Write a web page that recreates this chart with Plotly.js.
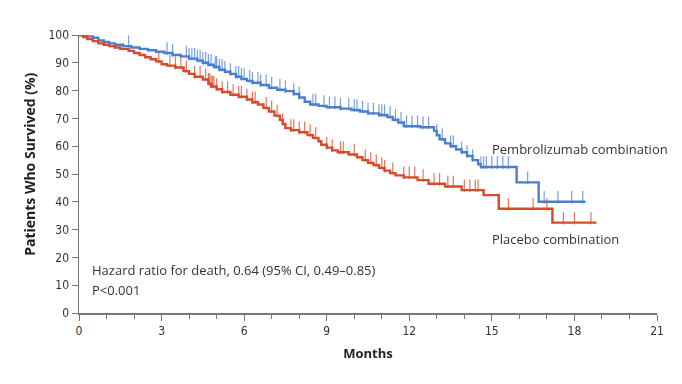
<!DOCTYPE html>
<html><head><meta charset="utf-8">
<script src="https://cdn.plot.ly/plotly-3.0.1.min.js"></script>
<style>html,body{margin:0;padding:0;background:#fff} #chart .xtick text{fill:#333 !important}</style>
</head><body><div id="chart" style="width:682px;height:384px"></div>
<script>
// Kaplan-Meier step data (months, % surviving after step)
const pembroTimes = [0,0.3,0.5,0.7,0.9,1.1,1.3,1.6,1.9,2.2,2.5,2.8,3.1,3.4,3.7,4.0,4.3,4.5,4.7,4.9,5.1,5.3,5.5,5.7,5.9,6.1,6.3,6.6,6.9,7.2,7.5,7.8,8.0,8.2,8.4,8.7,9.0,9.5,9.9,10.2,10.5,10.9,11.2,11.4,11.6,11.8,12.4,12.9,13.0,13.1,13.3,13.5,13.7,13.9,14.1,14.3,14.5,14.6,15.9,16.7,18.4];
const pembroSurv  = [100,99.5,99,98,97.5,97,96.5,96,95.5,95,94.5,94,93.5,92.8,92.3,91.5,90.8,90,89.3,88.5,87.5,86.8,86,85,84.2,83.5,82.8,82,81,80.3,79.8,78.8,77.5,76,75,74.5,74,73.5,73,72.5,71.8,71.2,70.5,69.5,68.5,67.2,66.8,65.5,64,62.5,61,60,58.8,57.8,56.5,55,53.5,52.5,47,40,40];
const placeboTimes = [0,0.15,0.3,0.5,0.7,0.9,1.1,1.3,1.5,1.8,2.0,2.2,2.4,2.6,2.8,3.0,3.2,3.5,3.8,4.0,4.2,4.5,4.7,4.8,5.0,5.2,5.5,5.8,6.1,6.3,6.5,6.7,6.9,7.1,7.3,7.4,7.5,7.7,8.0,8.3,8.5,8.7,8.8,9.0,9.2,9.4,9.8,10.1,10.3,10.5,10.7,10.9,11.1,11.3,11.5,11.8,12.3,12.7,13.3,13.9,14.7,15.25,17.2,18.8];
const placeboSurv  = [100,99.3,98.5,97.8,97,96.5,96,95.5,95,94.3,93.5,92.8,92,91.3,90.5,89.5,89,88.3,87,86,85,84,82.5,81.5,80.5,79.5,78.5,77.8,76.8,75.8,75,73.8,72.5,71,69.5,68,66.5,65.8,65,64,63,61.8,60.5,59.5,58.5,57.8,57,56,55,54,53.2,52.2,51.2,50.3,49.5,48.8,47.8,46.5,45.5,44.2,42.4,37.5,32.5,32.5];
// censoring times (months)
const pembroCensor = [1.8,3.2,3.4,3.9,4.0,4.1,4.2,4.3,4.4,4.5,4.6,4.7,4.8,4.95,5.0,5.1,5.2,5.3,5.5,5.7,5.8,5.9,6.0,6.2,6.3,6.5,6.6,6.8,7.0,7.3,7.5,7.8,8.0,8.5,8.6,8.9,9.1,9.3,9.5,9.8,10.0,10.1,10.3,10.5,10.7,10.9,11.0,11.1,11.3,11.5,11.7,11.9,12.1,12.3,12.5,12.7,13.0,13.2,13.5,13.6,13.9,14.1,14.3,14.6,14.7,14.8,15.0,15.2,15.4,15.6,16.3,16.9,17.4,17.9,18.3];
const placeboCensor = [2.9,3.3,3.5,3.7,3.9,4.2,4.4,4.6,4.7,4.75,4.8,4.85,4.9,5.0,5.2,5.4,5.6,5.8,5.9,6.1,6.3,6.4,6.8,7.0,7.2,7.4,7.7,7.8,8.0,8.2,8.4,8.6,9.0,9.2,9.5,9.6,10.0,10.4,10.6,10.8,11.0,11.1,11.4,11.8,12.0,12.2,12.5,12.9,13.1,13.4,13.6,14.0,14.2,14.4,14.5,15.6,16.5,17.0,17.6,18.0,18.6];
const xTickVals = [0,3,6,9,12,15,18,21];
const xTickText = ['0','3','6','9','12','15','18','21'];
const yTickVals = [0,10,20,30,40,50,60,70,80,90,100];
const seriesNames = ['Pembrolizumab combination','Placebo combination'];

const BLUE = '#4a7fd0', RED = '#d84a2c';
function survAt(times, surv, t){ let v = surv[0]; for(let i=0;i<times.length;i++){ if(times[i]<=t) v=surv[i]; } return v; }
const TICK_RAISE = 1.6; // raise so ticks sit above the curve
function censorTrace(times, surv, ct, color){
  return {x: ct, y: ct.map(t=>survAt(times,surv,t)+TICK_RAISE), mode:'markers', type:'scatter',
    marker:{symbol:'line-ns-open', size:9, color:color, line:{width:1.2, color:color}},
    hoverinfo:'skip', showlegend:false, opacity:0.75};
}
const data = [
  {x:pembroTimes, y:pembroSurv, type:'scatter', mode:'lines', line:{shape:'hv', color:BLUE, width:2.4}, name:seriesNames[0]},
  {x:placeboTimes, y:placeboSurv, type:'scatter', mode:'lines', line:{shape:'hv', color:RED, width:2.4}, name:seriesNames[1]},
  censorTrace(pembroTimes, pembroSurv, pembroCensor, BLUE),
  censorTrace(placeboTimes, placeboSurv, placeboCensor, RED)
];
const tickFont = {family:'"DejaVu Sans Condensed", "Liberation Sans Narrow", Arial, sans-serif', size:12, color:'#333'};
const txtFont = {family:'"Open Sans", sans-serif', size:13, color:'#333'};
const layout = {
  width:682, height:384, paper_bgcolor:'#fff', plot_bgcolor:'#fff', showlegend:false,
  margin:{l:79, r:25, t:35, b:71},
  xaxis:{range:[0,21], tickvals:xTickVals, ticktext:xTickText, ticks:'outside', ticklen:6, tickcolor:'#777', tickwidth:1,
    showline:true, linecolor:'#777', linewidth:1.5, showgrid:false, zeroline:false, tickfont:tickFont,
    minor:{dtick:1, ticks:'outside', ticklen:4, tickcolor:'#777', showgrid:false},
    title:{text:'<b>Months</b>', font:{family:'"Open Sans", sans-serif', size:13, color:'#222'}, standoff:12}},
  yaxis:{range:[0,100], tickvals:yTickVals, ticks:'outside', ticklen:6, tickcolor:'#777', tickwidth:1,
    showline:true, linecolor:'#777', linewidth:1.5, showgrid:false, zeroline:false, tickfont:tickFont},
  annotations:[
    {xref:'paper', yref:'paper', x:-0.085, y:0.536, xanchor:'center', yanchor:'middle', textangle:-90, showarrow:false, text:'<b>Patients Who Survived (%)</b>', font:{family:'"Open Sans", sans-serif', size:14, color:'#222'}},
    {xref:'x', yref:'y', x:14.95, y:58.9, xanchor:'left', yanchor:'middle', showarrow:false, text:seriesNames[0], font:txtFont},
    {xref:'x', yref:'y', x:14.95, y:26.8, xanchor:'left', yanchor:'middle', showarrow:false, text:seriesNames[1], font:txtFont},
    {xref:'x', yref:'y', x:0.4, y:15.5, xanchor:'left', yanchor:'middle', showarrow:false, text:'Hazard ratio for death, 0.64 (95% CI, 0.49–0.85)', font:txtFont},
    {xref:'x', yref:'y', x:0.4, y:8.3, xanchor:'left', yanchor:'middle', showarrow:false, text:'P<0.001', font:txtFont}
  ]
};
Plotly.newPlot('chart', data, layout, {displayModeBar:false, staticPlot:true});
</script></body></html>
